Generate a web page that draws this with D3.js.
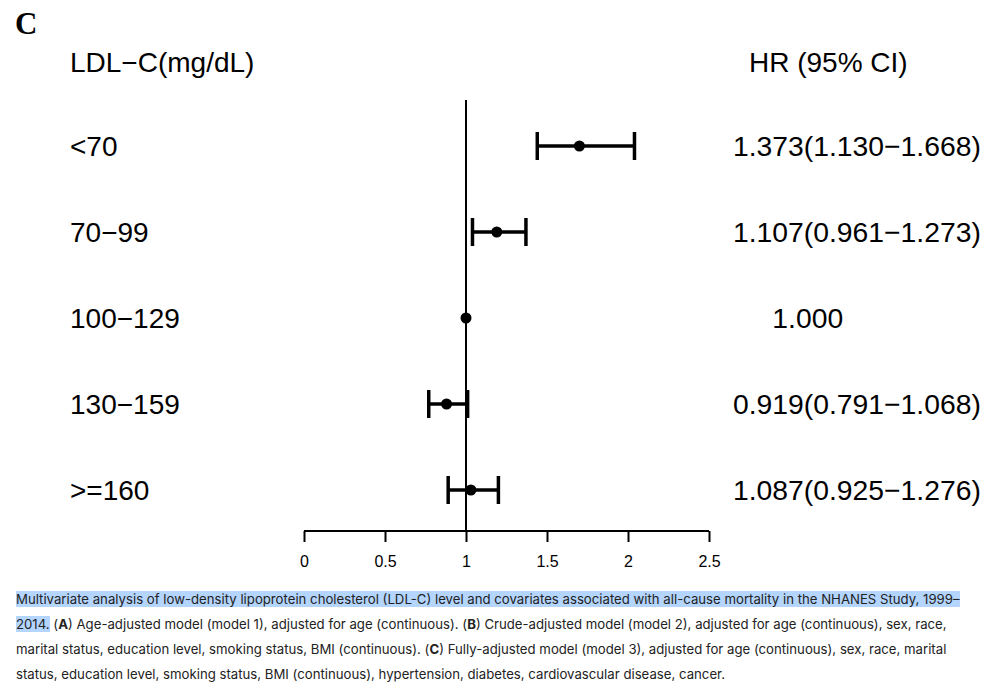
<!DOCTYPE html>
<html>
<head>
<meta charset="utf-8">
<script src="https://cdn.jsdelivr.net/npm/d3@7"></script>
<style>
  body { margin: 0; background: #fff; width: 1000px; height: 693px; overflow: hidden; position: relative; }
  svg { position: absolute; left: 0; top: 0; }
  #caption { position: absolute; left: 16px; top: 587px; font-family: Inter, "Noto Sans", sans-serif; font-size: 13.2px; line-height: 25px; color: #222; white-space: nowrap; }
  .hl { background: #b4d5fe; }
</style>
</head>
<body>
<svg id="chart" width="1000" height="580"></svg>
<div id="caption"></div>
<script>
// ---- data ----
const categories = ["<70", "70\u221299", "100\u2212129", "130\u2212159", ">=160"];
const estimates  = [1.70, 1.19, 1.00, 0.88, 1.03];
const lowerCI    = [1.44, 1.04, null, 0.77, 0.89];
const upperCI    = [2.04, 1.37, null, 1.01, 1.20];
const hrLabels   = ["1.373(1.130\u22121.668)", "1.107(0.961\u22121.273)", "     1.000", "0.919(0.791\u22121.068)", "1.087(0.925\u22121.276)"];
const xTicks     = [0, 0.5, 1, 1.5, 2, 2.5];
const xTickLabels = ["0", "0.5", "1", "1.5", "2", "2.5"];
const headerLeft = "LDL\u2212C(mg/dL)";
const headerRight = "HR (95% CI)";
const panelLabel = "C";

const rows = categories.map((c, i) => ({ cat: c, est: estimates[i], lo: lowerCI[i], hi: upperCI[i], lab: hrLabels[i] }));

const svg = d3.select("#chart");
const x = d3.scaleLinear().domain([0, 2.5]).range([304, 709]);
const y = d3.scalePoint().domain(categories).range([146, 490]);
const axisY = 531;
const font = "'Liberation Sans', Arial, sans-serif";

// panel letter
svg.append("text").attr("x", 15).attr("y", 34)
  .attr("font-family", "'Liberation Serif', 'Times New Roman', serif")
  .attr("font-weight", "bold").attr("font-size", 31).text(panelLabel);

// headers
svg.append("text").attr("x", 70).attr("y", 72).attr("font-family", font).attr("font-size", 28).text(headerLeft);
svg.append("text").attr("x", 749).attr("y", 72).attr("font-family", font).attr("font-size", 28).text(headerRight);

// category labels
svg.selectAll("text.cat").data(rows).join("text").attr("class", "cat")
  .attr("x", 70).attr("y", d => y(d.cat) + 10)
  .attr("font-family", font).attr("font-size", 28).text(d => d.cat);

// HR labels
svg.selectAll("text.hr").data(rows).join("text").attr("class", "hr")
  .attr("x", 733).attr("y", d => y(d.cat) + 10)
  .attr("font-family", font).attr("font-size", 28.3)
  .style("white-space", "pre").attr("xml:space", "preserve")
  .text(d => d.lab);

// reference line at HR = 1
svg.append("line").attr("x1", x(1)).attr("x2", x(1)).attr("y1", 100).attr("y2", axisY)
  .attr("stroke", "#000").attr("stroke-width", 2);

// x axis
const axis = d3.axisBottom(x).tickValues(xTicks).tickFormat((d, i) => xTickLabels[i]).tickSize(11).tickPadding(14);
const ax = svg.append("g").attr("transform", `translate(0,${axisY})`).call(axis);
ax.select(".domain").attr("stroke", "#000").attr("stroke-width", 2).attr("d", `M${x(0)},0H${x(2.5)}`);
ax.selectAll(".tick line").attr("stroke", "#000").attr("stroke-width", 2);
ax.selectAll(".tick text").attr("font-family", font).attr("font-size", 16).attr("fill", "#000");

// CI bars
const ci = rows.filter(d => d.lo != null);
svg.selectAll("line.ci").data(ci).join("line").attr("class", "ci")
  .attr("x1", d => x(d.lo)).attr("x2", d => x(d.hi))
  .attr("y1", d => y(d.cat)).attr("y2", d => y(d.cat))
  .attr("stroke", "#000").attr("stroke-width", 3.5);
svg.selectAll("line.capL").data(ci).join("line").attr("class", "capL")
  .attr("x1", d => x(d.lo)).attr("x2", d => x(d.lo))
  .attr("y1", d => y(d.cat) - 14).attr("y2", d => y(d.cat) + 14)
  .attr("stroke", "#000").attr("stroke-width", 3.5);
svg.selectAll("line.capR").data(ci).join("line").attr("class", "capR")
  .attr("x1", d => x(d.hi)).attr("x2", d => x(d.hi))
  .attr("y1", d => y(d.cat) - 14).attr("y2", d => y(d.cat) + 14)
  .attr("stroke", "#000").attr("stroke-width", 3.5);

// points
svg.selectAll("circle.pt").data(rows).join("circle").attr("class", "pt")
  .attr("cx", d => x(d.est)).attr("cy", d => y(d.cat)).attr("r", 5.5).attr("fill", "#000");

// caption
document.getElementById("caption").innerHTML =
  '<span class="hl">Multivariate analysis of low-density lipoprotein cholesterol (LDL-C) level and covariates associated with all-cause mortality in the NHANES Study, 1999\u2013</span><br>' +
  '<span class="hl">2014.</span> (<b>A</b>) Age-adjusted model (model 1), adjusted for age (continuous). (<b>B</b>) Crude-adjusted model (model 2), adjusted for age (continuous), sex, race,<br>' +
  'marital status, education level, smoking status, BMI (continuous). (<b>C</b>) Fully-adjusted model (model 3), adjusted for age (continuous), sex, race, marital<br>' +
  'status, education level, smoking status, BMI (continuous), hypertension, diabetes, cardiovascular disease, cancer.';
</script>
</body>
</html>
